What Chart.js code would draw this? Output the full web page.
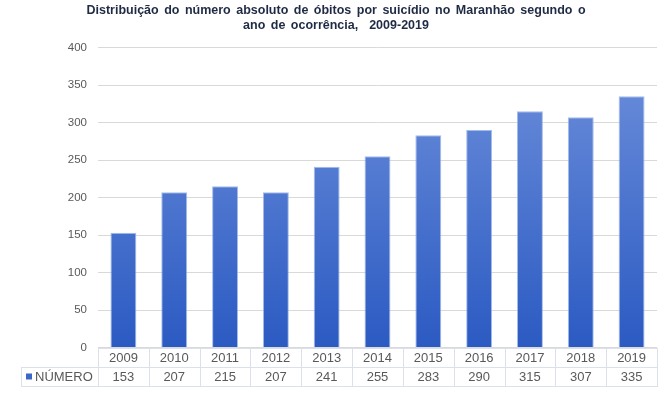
<!DOCTYPE html>
<html>
<head>
<meta charset="utf-8">
<script src="https://cdn.jsdelivr.net/npm/chart.js@4"></script>
<style>
html,body{margin:0;padding:0;background:#fff;}
#wrap{width:670px;height:395px;position:relative;}
</style>
</head>
<body>
<div id="wrap"><canvas id="c" width="670" height="395"></canvas></div>
<script>
const titleLines = ["Distribuição do número absoluto de óbitos por suicídio no Maranhão segundo o", "ano de ocorrência,  2009-2019"];
const categories = ["2009","2010","2011","2012","2013","2014","2015","2016","2017","2018","2019"];
const seriesName = "NÚMERO";
const values = [153, 207, 215, 207, 241, 255, 283, 290, 315, 307, 335];
const yTicks = [0, 50, 100, 150, 200, 250, 300, 350, 400];

const textColor = '#595959';
const gridColor = '#d9d9d9';
const tableColor = '#dbe0ea';
const FONT = '"Liberation Sans", Arial, sans-serif';

const titlePlugin = {
  id: 'customTitle',
  afterDraw(chart) {
    const ctx = chart.ctx;
    ctx.save();
    ctx.fillStyle = '#1f2b45';
    ctx.font = 'bold 12.5px ' + FONT;
    ctx.textAlign = 'center';
    ctx.textBaseline = 'middle';
    try { ctx.wordSpacing = '2px'; } catch (e) {}
    ctx.fillText(titleLines[0], 336, 11);
    ctx.fillText(titleLines[1], 336, 26);
    ctx.restore();
  }
};

const tablePlugin = {
  id: 'dataTable',
  afterDraw(chart) {
    const ctx = chart.ctx;
    const xs = chart.scales.x;
    const area = chart.chartArea;
    const n = categories.length;
    const step = (area.right - area.left) / n;
    const top = Math.round(area.bottom);
    const mid = top + 19;
    const bot = top + 38;
    const legLeft = 21;
    ctx.save();
    ctx.strokeStyle = tableColor;
    ctx.lineWidth = 1;
    ctx.beginPath();
    ctx.moveTo(area.left, top + 0.5); ctx.lineTo(area.right + 1, top + 0.5);
    ctx.moveTo(legLeft, mid + 0.5); ctx.lineTo(area.right + 1, mid + 0.5);
    ctx.moveTo(legLeft, bot + 0.5); ctx.lineTo(area.right + 1, bot + 0.5);
    ctx.moveTo(legLeft + 0.5, mid); ctx.lineTo(legLeft + 0.5, bot);
    for (let i = 0; i <= n; i++) {
      const x = Math.round(area.left + i * step) + 0.5;
      ctx.moveTo(x, top); ctx.lineTo(x, bot);
    }
    ctx.stroke();
    ctx.fillStyle = textColor;
    ctx.font = '13px ' + FONT;
    ctx.textAlign = 'center';
    ctx.textBaseline = 'middle';
    categories.forEach((c, i) => {
      const x = xs.getPixelForValue(i);
      ctx.fillText(c, x, (top + mid) / 2 + 1);
      ctx.fillText(String(values[i]), x, (mid + bot) / 2 + 1);
    });
    ctx.fillStyle = '#3a67c8';
    ctx.fillRect(26, (mid + bot) / 2 - 3, 6, 6);
    ctx.fillStyle = textColor;
    ctx.textAlign = 'left';
    ctx.fillText(seriesName, 35, (mid + bot) / 2 + 1);
    ctx.restore();
  }
};

function barGradient(context) {
  const chart = context.chart;
  const area = chart.chartArea;
  if (!area) return '#4a72cf';
  const g = chart.ctx.createLinearGradient(0, area.top, 0, area.bottom);
  g.addColorStop(0, '#6f91dc');
  g.addColorStop(1, '#2b5ac2');
  return g;
}

new Chart(document.getElementById('c'), {
  type: 'bar',
  data: {
    labels: categories,
    datasets: [{
      label: seriesName,
      data: values,
      backgroundColor: barGradient,
      borderColor: 'rgba(140,170,230,0.8)',
      borderWidth: 1,
      categoryPercentage: 1.0,
      barPercentage: 0.51
    }]
  },
  options: {
    responsive: false,
    animation: false,
    devicePixelRatio: 1,
    layout: { padding: { left: 0, right: 13, top: 47.5, bottom: 47.5 } },
    plugins: {
      legend: { display: false },
      tooltip: { enabled: false },
      title: { display: false }
    },
    scales: {
      x: {
        display: false,
        offset: true,
        grid: { display: false }
      },
      y: {
        min: 0,
        max: 400,
        afterBuildTicks(s) { s.ticks = yTicks.map(v => ({ value: v })); },
        afterFit(s) { s.width = 98; },
        border: { display: false },
        grid: { color: gridColor, drawTicks: false },
        ticks: {
          color: textColor,
          padding: 11,
          font: { family: FONT, size: 11.5 }
        }
      }
    }
  },
  plugins: [tablePlugin, titlePlugin]
});
</script>
</body>
</html>
